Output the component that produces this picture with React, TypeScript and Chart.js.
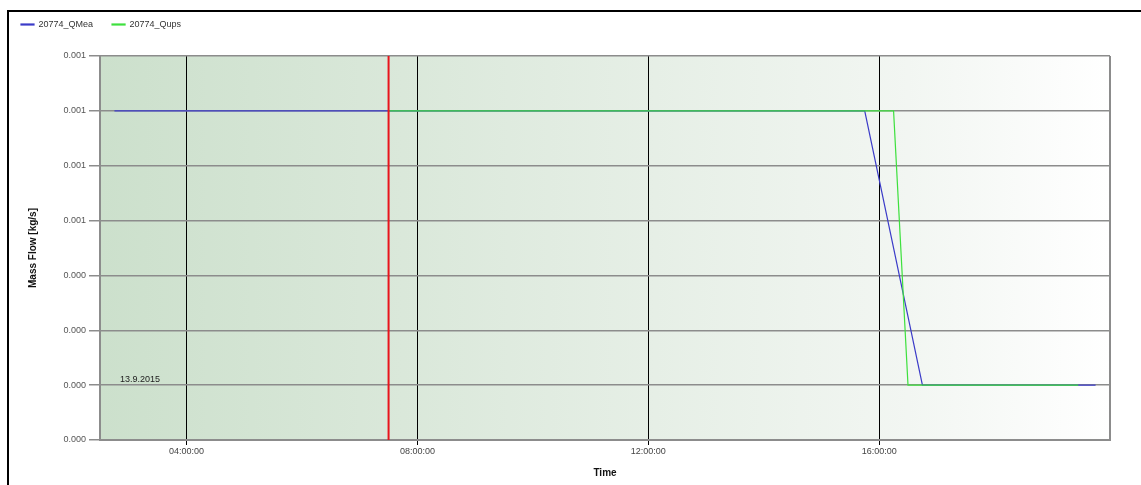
import React, { useEffect, useRef } from "react";
import { Chart, registerables } from "chart.js";

Chart.register(...registerables);

// ---- data (time in hours of day, values in kg/s) ----
const qMeaTimes = [2.75, 15.75, 16.75, 19.75];
const qMeaValues = [0.0009, 0.0009, 0.00015, 0.00015];
const qUpsTimes = [7.5, 16.25, 16.5, 19.45];
const qUpsValues = [0.0009, 0.0009, 0.00015, 0.00015];
const seriesNames = ["20774_QMea", "20774_Qups"];
const xTickValues = [2.5, 4, 8, 12, 16, 20];
const xTickLabels = ["", "04:00:00", "08:00:00", "12:00:00", "16:00:00", ""];
const yTickValues = [0, 0.00015, 0.0003, 0.00045, 0.0006, 0.00075, 0.0009, 0.00105];
const yTickLabels = ["0.000", "0.000", "0.000", "0.000", "0.001", "0.001", "0.001", "0.001"];
const markerTime = 7.5;
const dateLabel = "13.9.2015";
const xMin = 2.5;
const xMax = 20;

const FONT = "'Liberation Sans', Arial, sans-serif";

export default function App() {
  const ref = useRef<HTMLCanvasElement | null>(null);

  useEffect(() => {
    if (!ref.current) return;
    const decor = {
      id: "decor",
      beforeInit(chart: any) {
        const lg = chart.legend;
        if (lg) {
          const orig = lg.fit.bind(lg);
          lg.fit = function () {
            orig();
            this.height = 55;
          };
        }
      },
      beforeDraw(chart: any) {
        const { ctx, chartArea: a } = chart;
        ctx.save();
        ctx.fillStyle = "#ffffff";
        ctx.fillRect(0, 0, chart.width, chart.height);
        const g = ctx.createLinearGradient(a.left, 0, a.right, 0);
        g.addColorStop(0, "#cce0cc");
        g.addColorStop(0.3, "#dae8da");
        g.addColorStop(0.55, "#e6efe6");
        g.addColorStop(0.8, "#f2f6f2");
        g.addColorStop(1, "#ffffff");
        ctx.fillStyle = g;
        ctx.fillRect(a.left, a.top, a.right - a.left, a.bottom - a.top);
        // outer frame
        ctx.fillStyle = "#000000";
        ctx.fillRect(7, 10, 2, chart.height - 10);
        ctx.fillRect(7, 10, chart.width - 7, 2);
        ctx.restore();
      },
      afterDatasetsDraw(chart: any) {
        const { ctx, chartArea: a, scales } = chart;
        const x = scales.x.getPixelForValue(markerTime);
        ctx.save();
        ctx.strokeStyle = "#e8141c";
        ctx.lineWidth = 2;
        ctx.beginPath();
        ctx.moveTo(x, a.top);
        ctx.lineTo(x, a.bottom);
        ctx.stroke();
        ctx.fillStyle = "#222";
        ctx.font = "9px " + FONT;
        ctx.textAlign = "left";
        ctx.textBaseline = "bottom";
        ctx.fillText(dateLabel, scales.x.getPixelForValue(xMin) + 20, scales.y.getPixelForValue(yTickValues[1]) - 1);
        ctx.restore();
      },
    };

    const chart = new Chart(ref.current, {
      type: "line",
      data: {
        datasets: [
          {
            label: seriesNames[0],
            data: qMeaTimes.map((t, i) => ({ x: t, y: qMeaValues[i] })),
            borderColor: "#3b3bc8",
            backgroundColor: "#3b3bc8",
            borderWidth: 1.2,
            pointRadius: 0,
            tension: 0,
            order: 2,
          },
          {
            label: seriesNames[1],
            data: qUpsTimes.map((t, i) => ({ x: t, y: qUpsValues[i] })),
            borderColor: "#3ee03e",
            backgroundColor: "#3ee03e",
            borderWidth: 1.2,
            pointRadius: 0,
            tension: 0,
            order: 1,
          },
        ],
      },
      options: {
        responsive: false,
        animation: false,
        events: [],
        layout: { padding: { left: 2, top: 1, right: 31, bottom: 6 } },
        plugins: {
          tooltip: { enabled: false },
          legend: {
            position: "top",
            align: "start",
            labels: {
              boxWidth: 13,
              boxHeight: 1,
              padding: 19,
              color: "#333",
              font: { size: 9, family: FONT },
              sort: (a: any, b: any) => a.datasetIndex - b.datasetIndex,
            },
          },
        },
        scales: {
          x: {
            type: "linear",
            min: xMin,
            max: xMax,
            afterBuildTicks: (s: any) => {
              s.ticks = xTickValues.map((v) => ({ value: v }));
            },
            afterFit: (s: any) => {
              s.height = 39;
            },
            ticks: {
              autoSkip: false,
              maxRotation: 0,
              padding: 1,
              color: "#444",
              font: { size: 9, family: FONT },
              callback: (_v: any, i: number) => xTickLabels[i],
            },
            grid: {
              color: (c: any) => (c.index === 0 || c.index === xTickValues.length - 1 ? "#8c8c8c" : "#000000"),
              tickColor: (c: any) => (c.index === 0 || c.index === xTickValues.length - 1 ? "rgba(0,0,0,0)" : "#000000"),
              lineWidth: (c: any) => (c.index === 0 || c.index === xTickValues.length - 1 ? 2 : 1),
              tickLength: 5,
            },
            border: { display: true, color: "#8c8c8c", width: 2 },
            title: {
              display: true,
              text: "Time",
              color: "#111",
              font: { size: 10, weight: "bold", family: FONT },
              padding: { top: 6, bottom: 0 },
            },
          },
          y: {
            type: "linear",
            min: yTickValues[0],
            max: yTickValues[yTickValues.length - 1],
            afterBuildTicks: (s: any) => {
              s.ticks = yTickValues.map((v) => ({ value: v }));
            },
            afterFit: (s: any) => {
              s.width = 98;
            },
            ticks: {
              autoSkip: false,
              padding: 3,
              color: "#555",
              font: { size: 9, family: FONT },
              callback: (_v: any, i: number) => yTickLabels[i],
            },
            grid: {
              color: "#8c8c8c",
              lineWidth: 1.5,
              tickLength: 11,
            },
            border: { display: true, color: "#8c8c8c", width: 2 },
            title: {
              display: true,
              text: "Mass Flow [kg/s]",
              color: "#111",
              font: { size: 10, weight: "bold", family: FONT },
              padding: { top: 25, bottom: 0 },
            },
          },
        },
      },
      plugins: [decor],
    } as any);
    return () => chart.destroy();
  }, []);

  return (
    <div style={{ position: "fixed", left: 0, top: 0, width: 1141, height: 485, background: "#fff" }}>
      <canvas ref={ref} width={1141} height={485} style={{ width: 1141, height: 485, display: "block" }} />
    </div>
  );
}
